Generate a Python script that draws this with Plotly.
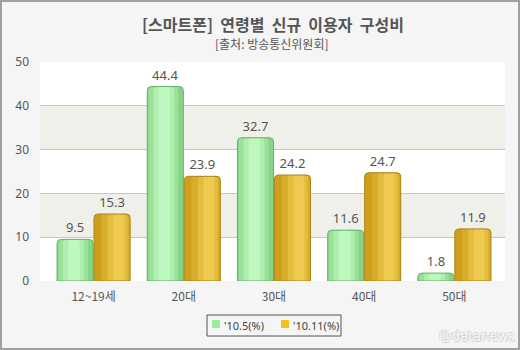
import plotly.graph_objects as go

# Data
categories = ["12~19세", "20대", "30대", "40대", "50대"]
may_2010 = [9.5, 44.4, 32.7, 11.6, 1.8]
nov_2010 = [15.3, 23.9, 24.2, 24.7, 11.9]
series_names = ["'10.5(%)", "'10.11(%)"]
y_ticks = [0, 10, 20, 30, 40, 50]

W, H = 520, 350
ML, MR, MT, MB = 40, 15, 62, 69
PW, PH = W - ML - MR, H - MT - MB

FONT = "'Noto Sans', 'Noto Sans CJK KR', sans-serif"
KFONT = "'Noto Sans CJK KR', 'Noto Sans', sans-serif"


def px_x(px):
    return (px - ML) / PW


def px_y(py):
    return (MT + PH - py) / PH


xpos = list(range(len(categories)))
BAR_W = 0.4

# (left offset of bar, base color, highlight layers [(rel_center, rel_width, color)], outline, swatch color)
styles = [
    (-0.405, "#86d486",
     [(0.45, 0.82, "#9ae29a"), (0.46, 0.58, "#aeeeae"), (0.47, 0.32, "#bff8bf")],
     "#6aae6a", "#99ee99"),
    (0.005, "#cf9f1c",
     [(0.6, 0.8, "#d9ad2c"), (0.65, 0.55, "#e4bd3e"), (0.68, 0.3, "#efca50")],
     "#a8841a", "#f2c21a"),
]

fig = go.Figure()
for vals, (off, base, layers, outline, _) in zip([may_2010, nov_2010], styles):
    fig.add_trace(go.Bar(x=xpos, y=vals, width=BAR_W, offset=off,
                         marker=dict(color=base, line=dict(width=0), cornerradius=4),
                         hoverinfo="skip"))
    for rc, rw, col in layers:
        w = BAR_W * rw
        fig.add_trace(go.Bar(x=xpos, y=vals, width=w, offset=off + BAR_W * rc - w / 2,
                             marker=dict(color=col, line=dict(width=0), cornerradius=3),
                             hoverinfo="skip"))
    fig.add_trace(go.Bar(x=xpos, y=vals, width=BAR_W, offset=off,
                         marker=dict(color="rgba(0,0,0,0)", line=dict(width=1, color=outline),
                                     cornerradius=4),
                         text=[f"{v:.1f}" for v in vals], textposition="outside",
                         textfont=dict(family=FONT, size=13, color="#555555"),
                         cliponaxis=False))

shapes = []
# alternating bands
for lo, hi in [(10, 20), (30, 40)]:
    shapes.append(dict(type="rect", xref="paper", yref="y", x0=0, x1=1, y0=lo, y1=hi,
                       fillcolor="#f0f0ea", line=dict(width=0), layer="below"))
# outer frame
shapes.append(dict(type="rect", xref="paper", yref="paper",
                   x0=px_x(1), x1=px_x(W - 1), y0=px_y(H - 1), y1=px_y(1),
                   line=dict(color="#a0a0a0", width=2), fillcolor="rgba(0,0,0,0)"))
# legend box
shapes.append(dict(type="rect", xref="paper", yref="paper",
                   x0=px_x(207), x1=px_x(341), y0=px_y(336), y1=px_y(315),
                   line=dict(color="#555555", width=1), fillcolor="#f5f5f5"))

annotations = [
    dict(text="<b>[스마트폰]&nbsp; 연령별&nbsp; 신규&nbsp; 이용자&nbsp; 구성비</b>",
         xref="paper", yref="paper",
         x=px_x(273), y=px_y(24), xanchor="center", yanchor="middle", showarrow=False,
         font=dict(family=KFONT, size=16, color="#555555")),
    dict(text="[출처: 방송통신위원회]", xref="paper", yref="paper",
         x=px_x(272), y=px_y(44), xanchor="center", yanchor="middle", showarrow=False,
         font=dict(family=KFONT, size=12, color="#555555")),
    dict(text="@datanews", xref="paper", yref="paper",
         x=px_x(477), y=px_y(335), xanchor="center", yanchor="middle", showarrow=False,
         font=dict(family=FONT, size=14, color="#f6f6f6",
                   shadow="1px 1px 1px #cfcfcf, -1px -1px 1px #cfcfcf")),
]

# legend entries: swatch + label
legend_items = [(212, 222), (281, 291)]
for (sx, tx), name, st in zip(legend_items, series_names, styles):
    shapes.append(dict(type="rect", xref="paper", yref="paper",
                       x0=px_x(sx), x1=px_x(sx + 8), y0=px_y(328), y1=px_y(320),
                       line=dict(width=0), fillcolor=st[4]))
    annotations.append(dict(text=name, xref="paper", yref="paper",
                            x=px_x(tx), y=px_y(325), xanchor="left", yanchor="middle",
                            showarrow=False,
                            font=dict(family=FONT, size=11, color="#444444")))

fig.update_layout(
    width=W, height=H,
    margin=dict(l=ML, r=MR, t=MT, b=MB, autoexpand=False),
    paper_bgcolor="#f5f5f5", plot_bgcolor="#ffffff",
    barmode="overlay", showlegend=False,
    shapes=shapes, annotations=annotations,
    font=dict(family=FONT, color="#555555"),
    xaxis=dict(range=[-0.594, 4.561], tickvals=xpos, ticktext=categories,
               showgrid=False, zeroline=False, showline=False, ticks="",
               ticklabelstandoff=7,
               tickfont=dict(family=KFONT, size=12, color="#555555")),
    yaxis=dict(range=[0, 50], tickvals=y_ticks, showgrid=True, gridcolor="#c8c8c0",
               gridwidth=1, zeroline=False, showline=False, ticks="",
               ticklabelstandoff=10,
               tickfont=dict(family=FONT, size=12, color="#555555")),
)

fig.write_html("out.html")
